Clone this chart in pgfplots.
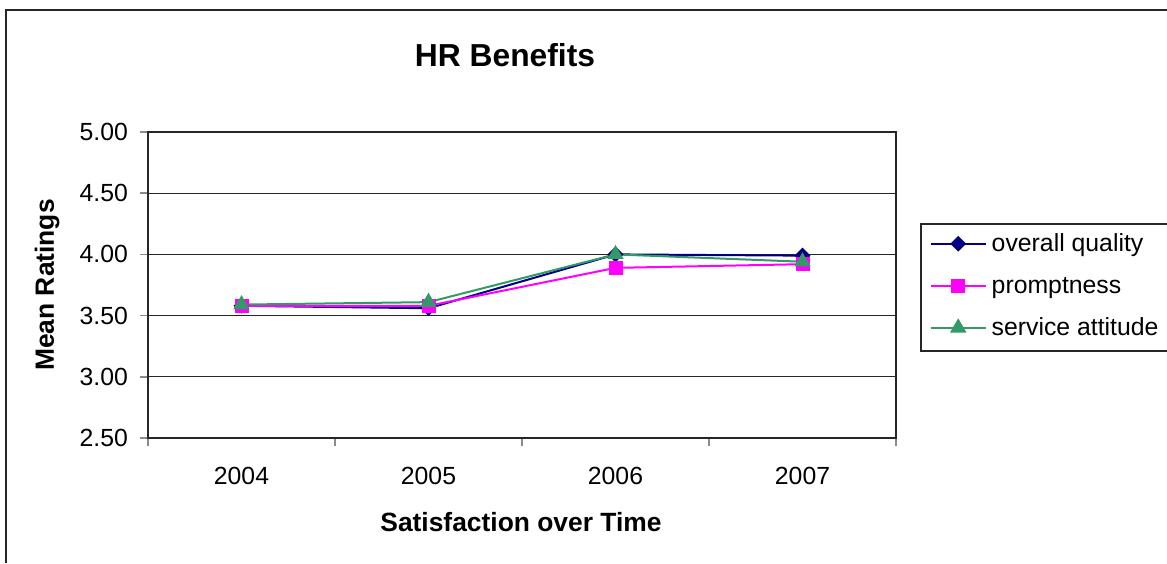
\documentclass[border=0pt]{standalone}
\usepackage{pgfplots}
\pgfplotsset{compat=1.18}
\usepackage{fontspec}
\setmainfont{Liberation Sans}
\definecolor{navyline}{RGB}{0,0,128}
\definecolor{pinkline}{RGB}{255,0,255}
\definecolor{greenline}{RGB}{51,153,102}

\begin{document}
\begin{tikzpicture}
\useasboundingbox (0pt,0pt) rectangle (583.5pt,281.5pt);
% chart frame (top and left edges)
\draw[line width=0.9pt, black!85] (3pt,0pt) -- (3pt,276.5pt) -- (590pt,276.5pt);
% titles
\node[font=\bfseries\fontsize{15.9}{18}\selectfont] at (252.5pt,254pt) {HR Benefits};
\node[font=\bfseries\fontsize{13.2}{15}\selectfont] at (260.5pt,20.5pt) {Satisfaction over Time};
\node[font=\bfseries\fontsize{13.2}{15}\selectfont, rotate=90] at (23.5pt,139pt) {Mean Ratings};
\begin{axis}[
  at={(74pt,62.5pt)}, anchor=south west,
  scale only axis, width=374pt, height=153pt,
  xmin=0.5, xmax=4.5, ymin=2.5, ymax=5,
  xtick={0.5,1.5,2.5,3.5,4.5}, xticklabels={},
  extra x ticks={1,2,3,4},
  extra x tick labels={2004,2005,2006,2007},
  extra x tick style={major tick length=0pt, grid=none},
  ytick={2.5,3,3.5,4,4.5,5},
  ymajorgrids, major grid style={black!85, line width=0.6pt},
  axis line style={black!85, line width=0.8pt},
  tick align=outside, tick pos=left,
  major tick length=4pt,
  tick style={black!45, line width=0.8pt},
  ticklabel style={font=\fontsize{12.4}{14}\selectfont},
  yticklabel style={xshift=-2.5pt, /pgf/number format/.cd, fixed, fixed zerofill, precision=2, assume math mode=true},
  xticklabel style={yshift=-11pt},
  legend style={at={(rel axis cs:1.032,0.7026)}, anchor=north west,
    draw=black!85, line width=0.8pt,
    font=\fontsize{12.4}{14}\selectfont,
    inner xsep=4.5pt, inner ysep=5pt, row sep=9.5pt, column sep=2.5pt,
    nodes={inner sep=0pt, text height=9pt, text depth=2.5pt, anchor=base west}},
  legend cell align=left,
  legend image code/.code={\draw[mark repeat=2, mark phase=2] plot coordinates {(0pt,4pt) (13.75pt,4pt) (27.5pt,4pt)};},
]
\addplot[navyline, line width=1pt, mark=square*, mark size=2.3pt, mark options={fill=navyline, solid, rotate=45}]
  coordinates {(1,3.58) (2,3.56) (3,4.00) (4,3.99)};
\addlegendentry{overall quality}
\addplot[pinkline, line width=1pt, mark=square*, mark size=3pt, mark options={fill=pinkline, solid}]
  coordinates {(1,3.58) (2,3.58) (3,3.89) (4,3.92)};
\addlegendentry{promptness}
\addplot[greenline, line width=1pt, mark=triangle*, mark size=3.75pt, mark options={fill=greenline, solid}]
  coordinates {(1,3.59) (2,3.61) (3,4.00) (4,3.94)};
\addlegendentry{service attitude}
\end{axis}
\end{tikzpicture}
\end{document}
